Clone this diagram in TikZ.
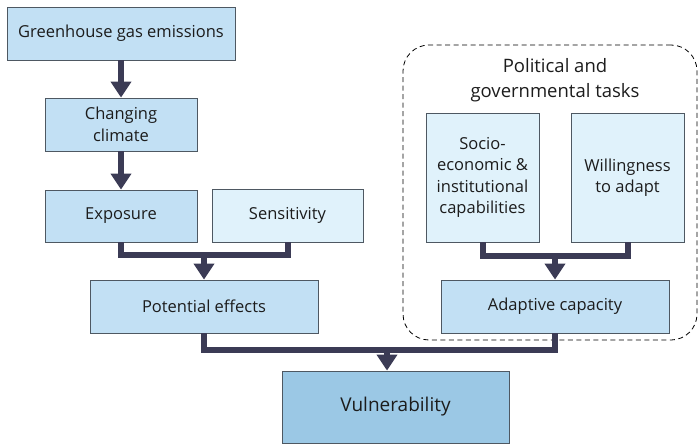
\documentclass[tikz,border=0pt]{standalone}
\usepackage{fontspec}
\setmainfont{Open Sans}
\usepackage{tikz}
\usetikzlibrary{shapes.geometric, arrows.meta}
\definecolor{boxblue}{HTML}{C2E0F4}
\definecolor{paleblue}{HTML}{E0F2FB}
\definecolor{deepblue}{HTML}{9BC8E5}
\definecolor{boxline}{HTML}{4E5862}
\definecolor{arrowcol}{HTML}{3B3B55}
\definecolor{textcol}{HTML}{1C1C1C}
\tikzstyle{box} = [rectangle, minimum height=53pt, inner sep=0pt, text centered, align=center, draw=boxline, line width=0.9pt, fill=boxblue, text=textcol, font=\fontsize{16.5}{21.5}\selectfont]
\tikzstyle{palebox} = [box, fill=paleblue]
\tikzstyle{group} = [rectangle, rounded corners=26pt, dashed, dash pattern=on 5pt off 3.5pt, draw=black, line width=0.8pt]
\tikzstyle{link} = [line width=6pt, draw=arrowcol, line join=miter]
\tikzstyle{arrow} = [link, -{Triangle[width=20pt,length=16pt]}]

\begin{document}
\begin{tikzpicture}[x=1pt, y=-1pt]
\useasboundingbox (0,0) rectangle (699,444);

\node (greenhouse gas) [box, minimum width=228pt] at (121,33.5) {Greenhouse gas emissions};
\node (changing climate) [box, minimum width=152pt] at (121,124.5) {Changing\\climate};
\node (exposure) [box, minimum width=152pt, minimum height=52pt] at (121,216) {Exposure};
\node (sensitivity) [palebox, minimum width=151pt] at (287.5,215.5) {Sensitivity};
\node (potential effects) [box, minimum width=228pt] at (204,306.5) {Potential effects};

\node (political tasks) [group, minimum width=294pt, minimum height=295pt] at (550,192.5) {};
\node (political title) [text=textcol, align=center, font=\fontsize{18.5}{25}\selectfont] at (555,80) {Political and\\governmental tasks};
\node (socio economic) [palebox, minimum width=113pt, minimum height=129pt] at (482.5,177.5) {Socio-\\economic \&\\institutional\\capabilities};
\node (willingness) [palebox, minimum width=113pt, minimum height=129pt] at (627.5,177.5) {Willingness\\to adapt};
\node (adaptive capacity) [box, minimum width=228pt] at (555,306.5) {Adaptive capacity};

\node (vulnerability) [box, fill=deepblue, minimum width=227pt, minimum height=72pt, font=\fontsize{19}{24}\selectfont] at (395.5,407) {Vulnerability};

\coordinate (effects join) at (204,255);
\coordinate (capacity join) at (555,255.5);
\coordinate (vulnerability join) at (387,350);

\draw [arrow] (greenhouse gas.south) -- (changing climate.north);
\draw [arrow] (changing climate.south) -- (exposure.north);
\draw [link] (exposure.south) -- ++(0,13) -| (sensitivity.south);
\draw [arrow] (effects join) -- (potential effects.north);
\draw [link] (socio economic.south) -- ++(0,13.5) -| (willingness.south);
\draw [arrow] (capacity join) -- (adaptive capacity.north);
\draw [link] (potential effects.south) -- ++(0,17) -| (adaptive capacity.south);
\draw [arrow] (vulnerability join) -- (vulnerability join |- vulnerability.north);

\end{tikzpicture}
\end{document}
